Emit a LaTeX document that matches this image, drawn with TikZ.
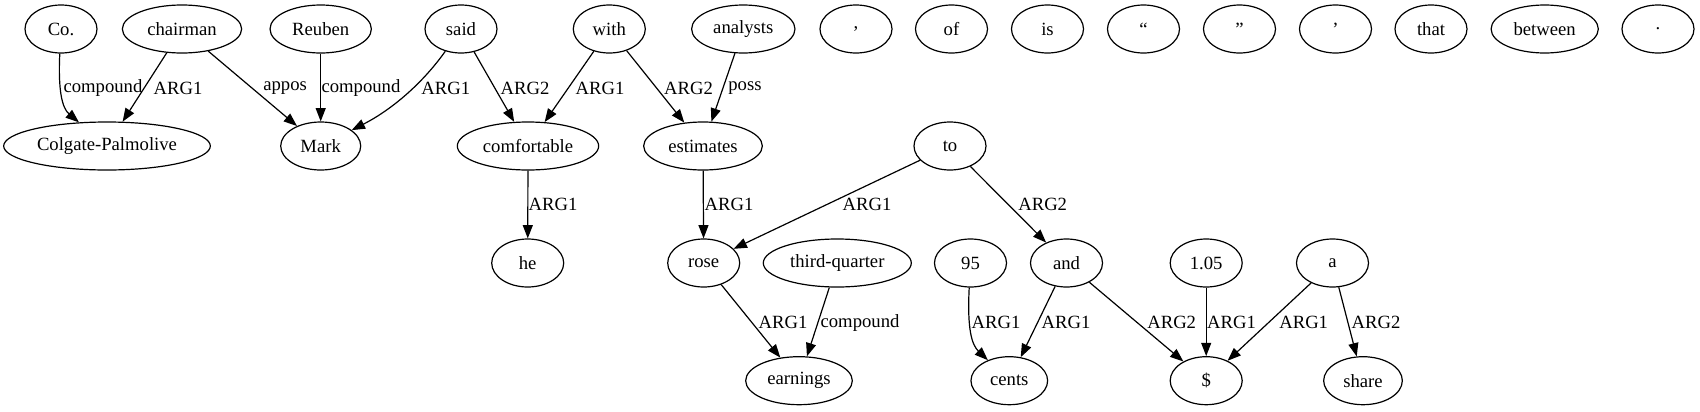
\documentclass[tikz,border=0pt]{standalone}
\usepackage{fontspec}
\setmainfont{Liberation Serif}
\usetikzlibrary{shapes.geometric,arrows.meta}
\tikzset{
  nd/.style={ellipse, draw, line width=0.9pt, minimum height=36pt, minimum width=54pt, inner sep=0pt, font=\fontsize{14pt}{16pt}\selectfont},
  lbl/.style={inner sep=0pt, font=\fontsize{14pt}{16pt}\selectfont},
  edge/.style={line width=0.9pt, -{Triangle[length=10pt,width=7.5pt]}}
}
\begin{document}
\begin{tikzpicture}[x=0.75pt,y=-0.75pt]
\useasboundingbox (0,0) rectangle (1700,411);
% row 1
\node[nd] (co) at (61,29) {Co.};
\node[nd,minimum width=89.5pt] (chair) at (182,29) {chairman};
\node[nd,minimum width=76pt] (reuben) at (320.7,29) {Reuben};
\node[nd] (said) at (461,29) {said};
\node[nd] (with) at (609.3,29) {with};
\node[nd,minimum width=77.5pt] (analysts) at (743.3,29) {analysts};
\node[nd] (comma) at (856,29) {,};
\node[nd] (of) at (951.5,29) {of};
\node[nd] (is) at (1047.5,29) {is};
\node[nd] (lq) at (1143.5,29) {“};
\node[nd] (rq) at (1239.5,29) {”};
\node[nd] (apos) at (1335.5,29) {’};
\node[nd] (that) at (1431,29) {that};
\node[nd,minimum width=80.4pt] (between) at (1544.7,29) {between};
\node[nd] (period) at (1658,29) {.};
% row 2
\node[nd,minimum width=155pt] (colgate) at (107,146) {Colgate-Palmolive};
\node[nd,minimum width=60pt] (mark) at (320.7,146) {Mark};
\node[nd,minimum width=106pt] (comf) at (528,146) {comfortable};
\node[nd,minimum width=89pt] (est) at (703,146) {estimates};
\node[nd] (to) at (950,146) {to};
% row 3
\node[nd] (he) at (527.7,263) {he};
\node[nd] (rose) at (703.7,263) {rose};
\node[nd,minimum width=111pt] (tq) at (837.3,263) {third-quarter};
\node[nd] (n95) at (970.5,263) {95};
\node[nd] (and) at (1066.5,263) {and};
\node[nd] (n105) at (1206.2,263) {1.05};
\node[nd] (a) at (1332.5,263) {a};
% row 4
\node[nd,minimum width=80pt] (earn) at (799,380.7) {earnings};
\node[nd,minimum width=57.5pt] (cents) at (1009.3,380.7) {cents};
\node[nd] (dollar) at (1206.2,380.7) {\$};
\node[nd,minimum width=59pt] (share) at (1363,380.7) {share};
% edges
\draw[edge] (co) .. controls (58,90) and (62,108) .. (colgate);
\draw[edge] (chair) -- (colgate);
\draw[edge] (chair) -- (mark);
\draw[edge] (reuben) -- (mark);
\draw[edge] (said) .. controls (425,80) and (395,108) .. (mark);
\draw[edge] (said) -- (comf);
\draw[edge] (with) -- (comf);
\draw[edge] (with) -- (est);
\draw[edge] (analysts) -- (est);
\draw[edge] (comf) -- (he);
\draw[edge] (est) -- (rose);
\draw[edge] (to) -- (rose);
\draw[edge] (to) -- (and);
\draw[edge] (rose) -- (earn);
\draw[edge] (tq) -- (earn);
\draw[edge] (n95) .. controls (967,330) and (972,345) .. (cents);
\draw[edge] (and) -- (cents);
\draw[edge] (and) -- (dollar);
\draw[edge] (n105) -- (dollar);
\draw[edge] (a) -- (dollar);
\draw[edge] (a) -- (share);
% labels
\node[lbl] (l1) at (103,88.3) {compound};
\node[lbl] (l2) at (178,88.3) {ARG1};
\node[lbl] (l3) at (285.1,88.3) {appos};
\node[lbl] (l4) at (361,88.3) {compound};
\node[lbl] (l5) at (445.8,88.3) {ARG1};
\node[lbl] (l6) at (525,88.3) {ARG2};
\node[lbl] (l7) at (600,88.3) {ARG1};
\node[lbl] (l8) at (688.5,88.3) {ARG2};
\node[lbl] (l9) at (745,88.3) {poss};
\node[lbl] (l10) at (553,204) {ARG1};
\node[lbl] (l11) at (729,204) {ARG1};
\node[lbl] (l12) at (867,204) {ARG1};
\node[lbl] (l13) at (1042.7,204) {ARG2};
\node[lbl] (l14) at (783,322.7) {ARG1};
\node[lbl] (l15) at (860,322.7) {compound};
\node[lbl] (l16) at (996,322.7) {ARG1};
\node[lbl] (l17) at (1066,322.7) {ARG1};
\node[lbl] (l18) at (1171.7,322.7) {ARG2};
\node[lbl] (l19) at (1231.5,322.7) {ARG1};
\node[lbl] (l20) at (1303.7,322.7) {ARG1};
\node[lbl] (l21) at (1376,322.7) {ARG2};
\end{tikzpicture}
\end{document}
